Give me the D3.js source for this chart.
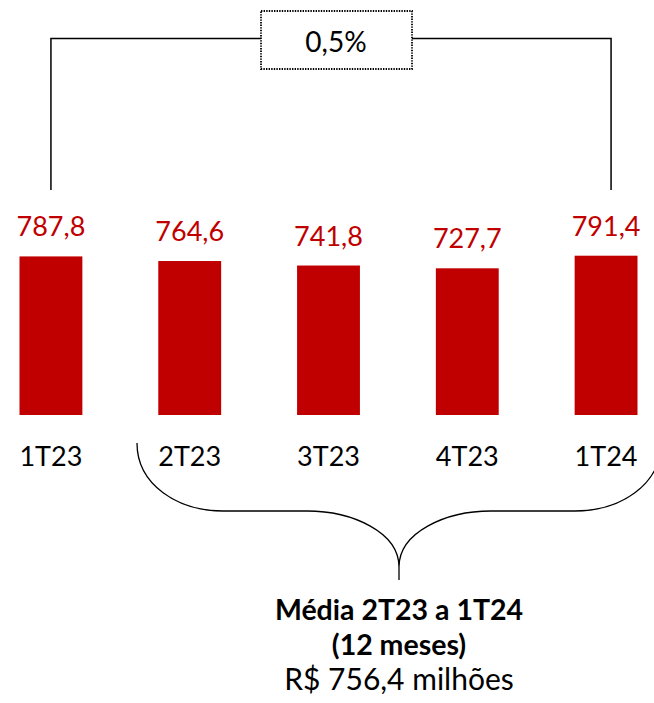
<!DOCTYPE html>
<html>
<head>
<meta charset="utf-8">
<script src="https://d3js.org/d3.v7.min.js"></script>
<style>
body { margin: 0; background: white; }
svg text { font-family: Lato, "Open Sans", sans-serif; }
</style>
</head>
<body>
<svg id="chart" width="654" height="703"></svg>
<script>
// data
var quarters = ["1T23", "2T23", "3T23", "4T23", "1T24"];
var values = [787.8, 764.6, 741.8, 727.7, 791.4];
var valueLabels = ["787,8", "764,6", "741,8", "727,7", "791,4"];
var changeLabel = "0,5%";
var footerLines = ["Média 2T23 a 1T24", "(12 meses)", "R$ 756,4 milhões"];

var svg = d3.select("#chart");
var red = "#C00000";

var x = d3.scaleBand().domain(quarters).range([19.5, 637.5]).paddingInner(0.547).paddingOuter(0);
var y = d3.scaleLinear().domain([-13, 800]).range([415, 254]);

// bars
svg.append("g").selectAll("rect")
  .data(values)
  .enter()
  .append("rect")
  .attr("x", function(d, i) { return x(quarters[i]); })
  .attr("y", function(d) { return y(d); })
  .attr("width", x.bandwidth())
  .attr("height", function(d) { return y(-13) - y(d); })
  .attr("fill", red);

// value labels
svg.append("g").selectAll("text")
  .data(values)
  .enter()
  .append("text")
  .attr("x", function(d, i) { return x(quarters[i]) + x.bandwidth() / 2; })
  .attr("y", function(d) { return y(d) - 20; })
  .attr("text-anchor", "middle")
  .attr("fill", red)
  .style("font-size", "27px")
  .text(function(d, i) { return valueLabels[i]; });

// category labels
svg.append("g").selectAll("text")
  .data(quarters)
  .enter()
  .append("text")
  .attr("x", function(d) { return x(d) + x.bandwidth() / 2; })
  .attr("y", 466)
  .attr("text-anchor", "middle")
  .attr("fill", "#000")
  .style("font-size", "27px")
  .text(function(d) { return d; });

// change bracket between first and last quarter
var xl = x(quarters[0]) + x.bandwidth() / 2;
var xr = x(quarters[4]) + x.bandwidth() / 2 + 5;
svg.append("path")
  .attr("d", "M" + xl + ",190 V38.5 H" + xr + " V190")
  .attr("fill", "none")
  .attr("stroke", "#000")
  .attr("stroke-width", 1.5);

svg.append("rect")
  .attr("x", 261).attr("y", 11)
  .attr("width", 151).attr("height", 58)
  .attr("fill", "white")
  .attr("stroke", "#000")
  .attr("stroke-width", 1.8)
  .attr("stroke-dasharray", "1.4,1.2");

svg.append("text")
  .attr("x", 336).attr("y", 52)
  .attr("text-anchor", "middle")
  .style("font-size", "28px")
  .text(changeLabel);

// curly brace under 2T23..1T24
var bx = 399;
svg.append("path")
  .attr("d", "M137,443 C137,485 178,511 223,511 L307,511 C352,511 399,532 399,567 L399,580 M399,567 C399,532 446,511 491,511 L575,511 C620,511 661,485 661,443")
  .attr("fill", "none")
  .attr("stroke", "#000")
  .attr("stroke-width", 1.3);

// footer text
svg.append("g").selectAll("text")
  .data(footerLines)
  .enter()
  .append("text")
  .attr("x", bx)
  .attr("y", function(d, i) { return 620 + i * 35; })
  .attr("text-anchor", "middle")
  .style("font-size", function(d, i) { return i < 2 ? "28.5px" : "30px"; })
  .style("font-weight", function(d, i) { return i < 2 ? "bold" : "normal"; })
  .text(function(d) { return d; });
</script>
</body>
</html>
